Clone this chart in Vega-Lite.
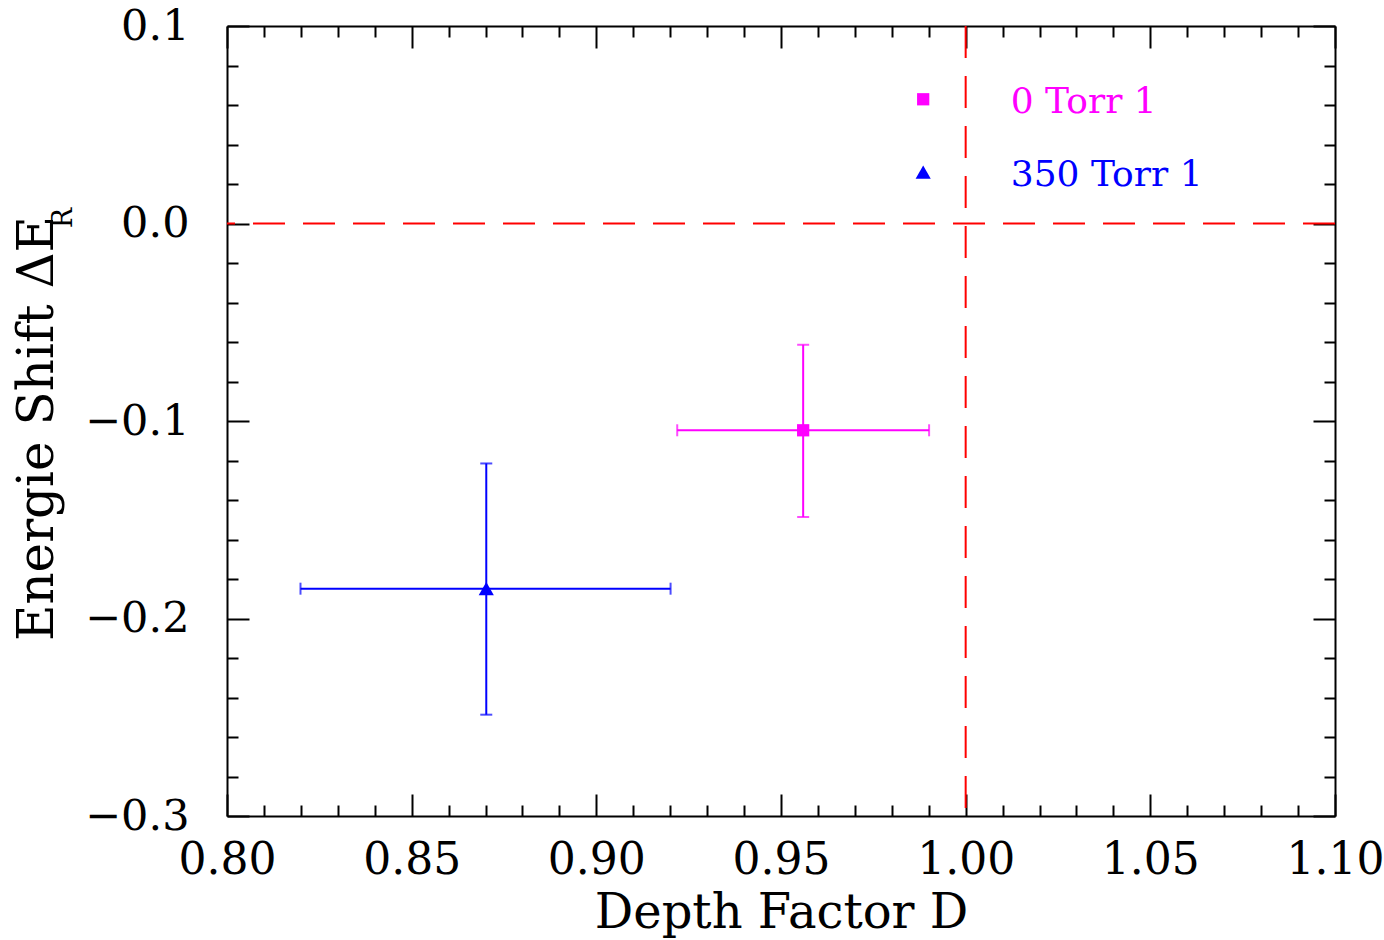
{
  "$schema": "https://vega.github.io/schema/vega-lite/v6.json",
  "width": 1108,
  "height": 790,
  "autosize": "none",
  "padding": {"left": 227, "top": 26, "right": 49, "bottom": 124},
  "background": "white",
  "config": {"view": {"stroke": null}},
  "datasets": {
    "points": [
      {"series": "0 Torr 1", "x": 0.956, "y": -0.1047, "xlo": 0.9219, "xhi": 0.9901, "ylo": -0.1486, "yhi": -0.0614},
      {"series": "350 Torr 1", "x": 0.8702, "y": -0.1849, "xlo": 0.8199, "xhi": 0.9201, "ylo": -0.2487, "yhi": -0.1215}
    ],
    "legend": [
      {"series": "0 Torr 1", "lx": 0.9885, "ly": 0.0629, "tx": 1.0122},
      {"series": "350 Torr 1", "lx": 0.9885, "ly": 0.026, "tx": 1.0122}
    ],
    "vline": [{"v": 1.0}],
    "hline": [{"v": 0}],
    "sub": [{"t": "R", "x": 0.7559, "y": 0.0028}]
  },
  "resolve": {"axis": {"x": "independent", "y": "independent"}},
  "layer": [
    {
      "data": {"name": "points"},
      "mark": {"type": "rule", "strokeWidth": 2},
      "encoding": {
        "x": {"field": "xlo", "type": "quantitative",
          "scale": {"domain": [0.8, 1.1], "nice": false, "zero": false},
          "axis": {
            "orient": "bottom",
            "values": [0.8,0.81,0.82,0.83,0.84,0.85,0.86,0.87,0.88,0.89,0.9,0.91,0.92,0.93,0.94,0.95,0.96,0.97,0.98,0.99,1.0,1.01,1.02,1.03,1.04,1.05,1.06,1.07,1.08,1.09,1.1],
            "labelExpr": "abs(datum.value*20 - round(datum.value*20)) < 1e-6 ? format(datum.value, '.2f') : ''",
            "tickSize": {"condition": {"test": "abs(datum.value*20 - round(datum.value*20)) < 1e-6", "value": -22}, "value": -11},
            "tickColor": "black", "tickWidth": 2,
            "domainColor": "black", "domainWidth": 2,
            "grid": false,
            "labelFont": "DejaVu Serif", "labelFontSize": 44, "labelColor": "black",
            "labelBaseline": "alphabetic", "labelPadding": 79,
            "labelFlush": false, "labelOverlap": false, "labelBound": false,
            "title": "Depth Factor D",
            "titleFont": "DejaVu Serif", "titleFontSize": 48, "titleFontWeight": "normal", "titleColor": "black",
            "titleX": 554, "titleY": 111, "titleBaseline": "alphabetic", "titleAlign": "center"
          }
        },
        "x2": {"field": "xhi"},
        "y": {"field": "y", "type": "quantitative",
          "scale": {"domain": [-0.3, 0.1], "nice": false, "zero": false},
          "axis": {
            "orient": "left",
            "values": [-0.3,-0.28,-0.26,-0.24,-0.22,-0.2,-0.18,-0.16,-0.14,-0.12,-0.1,-0.08,-0.06,-0.04,-0.02,0,0.02,0.04,0.06,0.08,0.1],
            "labelExpr": "abs(datum.value*10 - round(datum.value*10)) < 1e-6 ? format(datum.value, '.1f') : ''",
            "tickSize": {"condition": {"test": "abs(datum.value*10 - round(datum.value*10)) < 1e-6", "value": -22}, "value": -11},
            "tickColor": "black", "tickWidth": 2,
            "domainColor": "black", "domainWidth": 2,
            "grid": false,
            "labelFont": "DejaVu Serif", "labelFontSize": 43, "labelColor": "black",
            "labelPadding": 60,
            "labelFlush": false, "labelOverlap": false, "labelBound": false,
            "title": "Energie Shift ΔE",
            "titleFont": "DejaVu Serif", "titleFontSize": 50, "titleFontWeight": "normal", "titleColor": "black",
            "titleAngle": 270, "titleX": -175, "titleY": 402, "titleBaseline": "alphabetic", "titleAlign": "center"
          }
        },
        "color": {"field": "series", "type": "nominal",
          "scale": {"domain": ["0 Torr 1", "350 Torr 1"], "range": ["#ff00ff", "#0000ff"]},
          "legend": null}
      }
    },
    {
      "data": {"name": "points"},
      "mark": {"type": "rule", "strokeWidth": 2},
      "encoding": {
        "x": {"field": "x", "type": "quantitative", "scale": {"domain": [0.8, 1.1], "nice": false, "zero": false}, "axis": null},
        "y": {"field": "ylo", "type": "quantitative", "scale": {"domain": [-0.3, 0.1], "nice": false, "zero": false}, "axis": null},
        "y2": {"field": "yhi"},
        "color": {"field": "series", "type": "nominal", "legend": null}
      }
    },
    {
      "data": {"name": "points"},
      "transform": [{"fold": ["xlo", "xhi"], "as": ["k", "xe"]}],
      "mark": {"type": "tick", "orient": "vertical", "size": 12, "thickness": 2},
      "encoding": {
        "x": {"field": "xe", "type": "quantitative", "scale": {"domain": [0.8, 1.1], "nice": false, "zero": false}, "axis": null},
        "y": {"field": "y", "type": "quantitative", "scale": {"domain": [-0.3, 0.1], "nice": false, "zero": false}, "axis": null},
        "color": {"field": "series", "type": "nominal", "legend": null}
      }
    },
    {
      "data": {"name": "points"},
      "transform": [{"fold": ["ylo", "yhi"], "as": ["k", "ye"]}],
      "mark": {"type": "tick", "orient": "horizontal", "size": 12, "thickness": 2},
      "encoding": {
        "x": {"field": "x", "type": "quantitative", "scale": {"domain": [0.8, 1.1], "nice": false, "zero": false}, "axis": null},
        "y": {"field": "ye", "type": "quantitative", "scale": {"domain": [-0.3, 0.1], "nice": false, "zero": false}, "axis": null},
        "color": {"field": "series", "type": "nominal", "legend": null}
      }
    },
    {
      "data": {"name": "vline"},
      "mark": {"type": "rule", "color": "#ff0000", "strokeWidth": 2, "strokeDash": [32, 18]},
      "encoding": {
        "x": {"field": "v", "type": "quantitative", "scale": {"domain": [0.8, 1.1], "nice": false, "zero": false}, "axis": null}
      }
    },
    {
      "data": {"name": "hline"},
      "mark": {"type": "rule", "color": "#ff0000", "strokeWidth": 2, "strokeDash": [32, 18]},
      "encoding": {
        "y": {"field": "v", "type": "quantitative", "scale": {"domain": [-0.3, 0.1], "nice": false, "zero": false}, "axis": null}
      }
    },
    {
      "data": {"name": "points"},
      "mark": {"type": "point", "filled": true, "opacity": 1},
      "encoding": {
        "x": {"field": "x", "type": "quantitative",
          "scale": {"domain": [0.8, 1.1], "nice": false, "zero": false},
          "axis": {
            "orient": "top",
            "values": [0.8,0.81,0.82,0.83,0.84,0.85,0.86,0.87,0.88,0.89,0.9,0.91,0.92,0.93,0.94,0.95,0.96,0.97,0.98,0.99,1.0,1.01,1.02,1.03,1.04,1.05,1.06,1.07,1.08,1.09,1.1],
            "labels": false, "title": null, "grid": false,
            "tickSize": {"condition": {"test": "abs(datum.value*20 - round(datum.value*20)) < 1e-6", "value": -22}, "value": -11},
            "tickColor": "black", "tickWidth": 2,
            "domainColor": "black", "domainWidth": 2
          }
        },
        "y": {"field": "y", "type": "quantitative",
          "scale": {"domain": [-0.3, 0.1], "nice": false, "zero": false},
          "axis": {
            "orient": "right",
            "values": [-0.3,-0.28,-0.26,-0.24,-0.22,-0.2,-0.18,-0.16,-0.14,-0.12,-0.1,-0.08,-0.06,-0.04,-0.02,0,0.02,0.04,0.06,0.08,0.1],
            "labels": false, "title": null, "grid": false,
            "tickSize": {"condition": {"test": "abs(datum.value*10 - round(datum.value*10)) < 1e-6", "value": -22}, "value": -11},
            "tickColor": "black", "tickWidth": 2,
            "domainColor": "black", "domainWidth": 2
          }
        },
        "shape": {"field": "series", "type": "nominal",
          "scale": {"domain": ["0 Torr 1", "350 Torr 1"], "range": ["square", "triangle-up"]},
          "legend": null},
        "size": {"field": "series", "type": "ordinal",
          "scale": {"domain": ["0 Torr 1", "350 Torr 1"], "range": [150, 230]},
          "legend": null},
        "color": {"field": "series", "type": "nominal", "legend": null}
      }
    },
    {
      "data": {"name": "legend"},
      "mark": {"type": "point", "filled": true, "opacity": 1},
      "encoding": {
        "x": {"field": "lx", "type": "quantitative", "scale": {"domain": [0.8, 1.1], "nice": false, "zero": false}, "axis": null},
        "y": {"field": "ly", "type": "quantitative", "scale": {"domain": [-0.3, 0.1], "nice": false, "zero": false}, "axis": null},
        "shape": {"field": "series", "type": "nominal", "legend": null},
        "size": {"field": "series", "type": "ordinal", "legend": null},
        "color": {"field": "series", "type": "nominal", "legend": null}
      }
    },
    {
      "data": {"name": "legend"},
      "mark": {"type": "text", "align": "left", "baseline": "middle", "font": "DejaVu Serif", "fontSize": 36, "dy": 3},
      "encoding": {
        "x": {"field": "tx", "type": "quantitative", "scale": {"domain": [0.8, 1.1], "nice": false, "zero": false}, "axis": null},
        "y": {"field": "ly", "type": "quantitative", "scale": {"domain": [-0.3, 0.1], "nice": false, "zero": false}, "axis": null},
        "text": {"field": "series"},
        "color": {"field": "series", "type": "nominal", "legend": null}
      }
    },
    {
      "data": {"name": "sub"},
      "mark": {"type": "text", "align": "center", "baseline": "middle", "font": "DejaVu Serif", "fontSize": 27, "angle": 270, "color": "black"},
      "encoding": {
        "x": {"field": "x", "type": "quantitative", "scale": {"domain": [0.8, 1.1], "nice": false, "zero": false}, "axis": null},
        "y": {"field": "y", "type": "quantitative", "scale": {"domain": [-0.3, 0.1], "nice": false, "zero": false}, "axis": null},
        "text": {"field": "t"}
      }
    }
  ]
}
